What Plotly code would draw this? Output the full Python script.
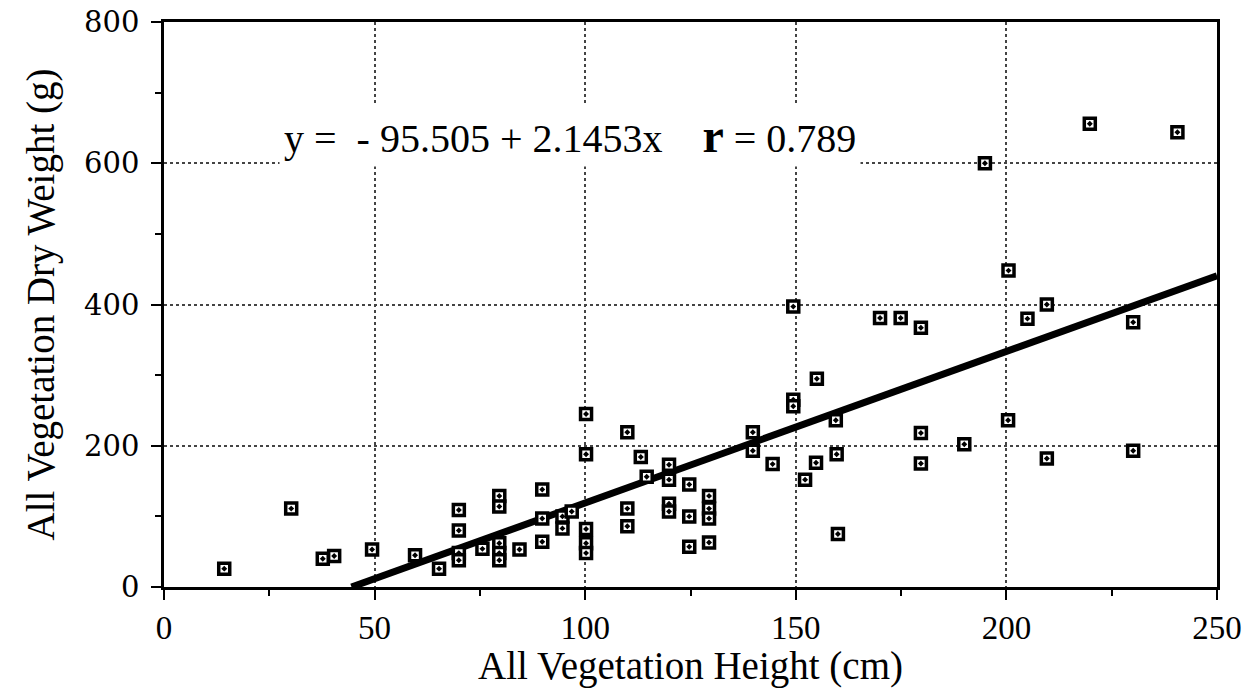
import plotly.graph_objects as go

height_cm = [14.3, 30.2, 37.7, 40.4, 49.4, 59.6, 65.3, 70, 70, 70, 70, 75.6,
             79.6, 79.6, 79.6, 79.6, 79.6, 84.4, 89.8, 89.8, 89.8, 94.6, 94.6, 96.8,
             100.2, 100.2, 100.2, 100.2, 100.2, 110, 110, 110, 113.2, 114.6,
             119.9, 119.9, 119.9, 119.9, 124.7, 124.7, 124.7, 129.4, 129.4, 129.4, 129.4,
             139.8, 139.8, 144.5, 149.4, 149.4, 149.4, 155, 159.5, 159.7, 154.8, 152.2,
             160, 170, 174.9, 179.7, 179.7, 179.7, 190, 200.4, 205, 209.6, 209.6,
             194.9, 200.5, 219.8, 240.6, 230.1, 230.1]
dry_weight_g = [26, 111, 40, 44, 53, 45, 26, 109, 80, 48, 38, 54,
                129, 114, 62, 48, 38, 53, 138, 97, 64, 100, 83, 107,
                245, 188, 82, 62, 48, 219, 111, 86, 184, 156,
                173, 152, 118, 107, 145, 100, 57, 129, 111, 97, 63,
                219, 193, 174, 397, 265, 256, 295, 236, 188, 176, 152,
                75, 381, 381, 367, 218, 175, 202, 236, 380, 400, 182,
                600, 448, 656, 644, 375, 193]

intercept = -95.505
slope = 2.1453
fit_x = [-intercept / slope, 250]
fit_y = [intercept + slope * v for v in fit_x]

x_ticks = [0, 50, 100, 150, 200, 250]
y_ticks = [0, 200, 400, 600, 800]

fig = go.Figure()
fig.add_trace(go.Scatter(x=fit_x, y=fit_y, mode="lines",
                         line=dict(color="black", width=7), showlegend=False))
fig.add_trace(go.Scatter(x=height_cm, y=dry_weight_g, mode="markers",
                         marker=dict(symbol="square-dot", size=11, color="white",
                                     line=dict(color="black", width=3.5)),
                         showlegend=False))

serif = "Liberation Serif, Times New Roman, serif"
fig.add_annotation(x=27.2, y=640, xref="x", yref="y", xanchor="left", yanchor="middle",
                   showarrow=False, bgcolor="white", borderpad=4,
                   text="y =\u00a0\u00a0- 95.505 + 2.1453x\u00a0\u00a0\u00a0 <b><span style='font-size:48px'>r</span></b> = 0.789",
                   font=dict(family=serif, size=40, color="black"))

fig.update_layout(
    width=1247, height=688,
    margin=dict(l=164, r=30, t=22, b=101),
    paper_bgcolor="white", plot_bgcolor="white",
    font=dict(family=serif, color="black"),
    xaxis=dict(range=[0, 250], tickvals=x_ticks, ticks="outside", ticklen=10, tickwidth=2,
               tickcolor="black", showline=True, linecolor="black", linewidth=2.5, mirror=True,
               showgrid=True, gridcolor="#444", griddash="dot", gridwidth=1.5, zeroline=False,
               tickfont=dict(family=serif, size=33), automargin=False,
               minor=dict(tickvals=[25, 75, 125, 175, 225], ticks="outside", ticklen=6,
                          tickwidth=2, tickcolor="black", showgrid=False),
               title=dict(text="All Vegetation Height (cm)", font=dict(family=serif, size=39),
                          standoff=4)),
    yaxis=dict(range=[0, 800], tickvals=y_ticks, ticks="outside", ticklen=10, tickwidth=2,
               tickcolor="black", showline=True, linecolor="black", linewidth=2.5, mirror=True,
               showgrid=True, gridcolor="#444", griddash="dot", gridwidth=1.5, zeroline=False,
               tickfont=dict(family="DejaVu Serif, serif", size=29), automargin=False,
               ticklabelstandoff=6,
               minor=dict(tickvals=[100, 300, 500, 700], ticks="outside", ticklen=6,
                          tickwidth=2, tickcolor="black", showgrid=False),
               title=dict(text="All Vegetation Dry Weight (g)", font=dict(family=serif, size=39),
                          standoff=18)),
)

fig.write_html("out.html")
